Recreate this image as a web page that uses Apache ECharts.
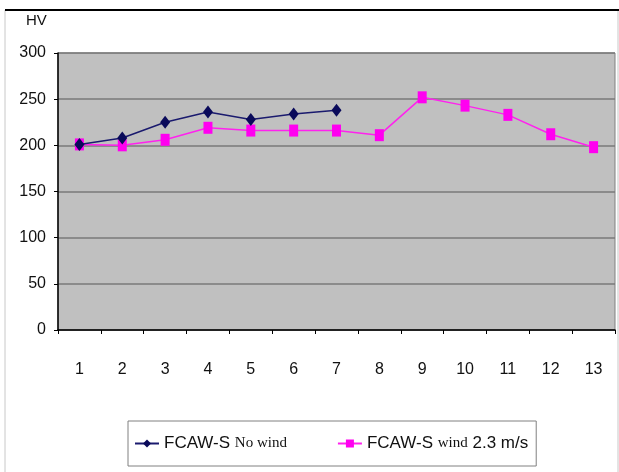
<!DOCTYPE html>
<html>
<head>
<meta charset="utf-8">
<script src="https://cdn.jsdelivr.net/npm/echarts@6/dist/echarts.min.js"></script>
<style>
html,body{margin:0;padding:0;background:#fff;}
#chart{width:619px;height:472px;}
</style>
</head>
<body>
<div id="chart"></div>
<script>
// Hardness profile across the weld, two shielding conditions
const positions = ['1','2','3','4','5','6','7','8','9','10','11','12','13'];
const noWind = [201, 208, 225, 236, 228, 234, 238];
const wind23 = [201, 200, 206, 219, 216, 216, 216, 211, 252, 243, 233, 212, 198];
const yTicks = { min: 0, max: 300, step: 50 };

const FONT = '"Liberation Sans Narrow", "Liberation Sans", Arial, sans-serif';
const SERIF = '"Liberation Serif", "DejaVu Serif", serif';

const chart = echarts.init(document.getElementById('chart'));
chart.setOption({
  backgroundColor: '#ffffff',
  animation: false,
  graphic: [
    { type: 'rect', shape: { x: 5, y: 10, width: 613, height: 470 },
      style: { fill: 'none', stroke: '#c8c8c8', lineWidth: 1 }, z: 0 },
    { type: 'line', shape: { x1: 5, y1: 10, x2: 619, y2: 10 },
      style: { stroke: '#000', lineWidth: 2 }, z: 1 },
    { type: 'text', left: 26, top: 13,
      style: { text: 'HV', font: '15px ' + FONT, fill: '#111' } }
  ],
  grid: {
    left: 58, right: 4, top: 53, bottom: 142,
    show: true, backgroundColor: '#c0c0c0', borderColor: '#808080', borderWidth: 1
  },
  legend: {
    bottom: 6, left: 128,
    itemWidth: 24, itemHeight: 10, itemGap: 50,
    borderColor: '#808080', borderWidth: 1, padding: [14, 8, 14, 6],
    formatter: function (name) {
      return name === 'nw' ? '{a|FCAW-S }{b|No wind}' : '{a|FCAW-S }{b|wind}{a| 2.3 m/s}';
    },
    textStyle: {
      color: '#111',
      rich: {
        a: { fontFamily: FONT, fontSize: 17, color: '#111' },
        b: { fontFamily: SERIF, fontSize: 15, color: '#111' }
      }
    },
    data: ['nw', 'w']
  },
  xAxis: {
    type: 'category', data: positions, boundaryGap: true,
    axisLine: { lineStyle: { color: '#000', width: 1.5 } },
    axisTick: { show: true, alignWithLabel: false, length: 4, lineStyle: { color: '#000' } },
    axisLabel: { fontFamily: FONT, fontSize: 16, color: '#111', margin: 32 }
  },
  yAxis: {
    type: 'value', min: yTicks.min, max: yTicks.max, interval: yTicks.step,
    axisLine: { show: true, lineStyle: { color: '#000', width: 1.5 } },
    axisTick: { show: true, length: 4, lineStyle: { color: '#000' } },
    axisLabel: { fontFamily: FONT, fontSize: 16, color: '#111', margin: 12 },
    splitLine: { lineStyle: { color: '#7a7a7a', width: 1.5 } }
  },
  series: [
    {
      name: 'nw', type: 'line', data: noWind,
      symbol: 'diamond', symbolSize: [10, 13],
      lineStyle: { color: '#1a1a6e', width: 1.5 },
      itemStyle: { color: '#0a0a5a' }, z: 3
    },
    {
      name: 'w', type: 'line', data: wind23,
      symbol: 'rect', symbolSize: [9, 12],
      lineStyle: { color: '#ff22ee', width: 1.5 },
      itemStyle: { color: '#ff00f0' }, z: 2
    }
  ]
});
</script>
</body>
</html>
